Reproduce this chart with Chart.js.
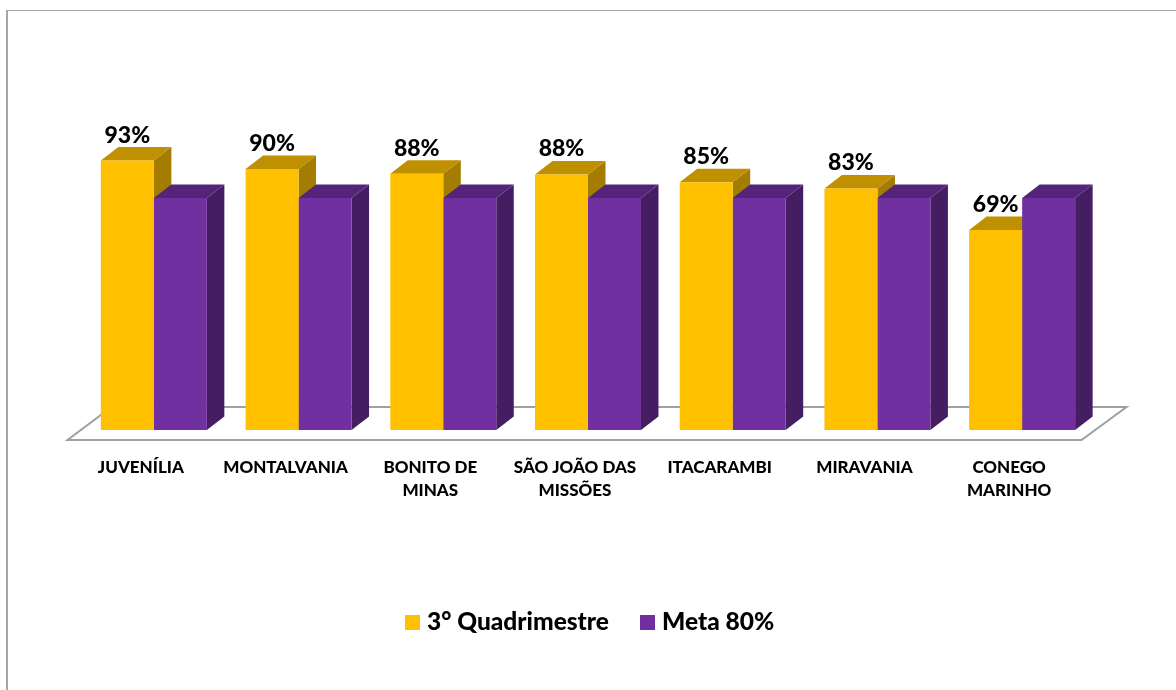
<!DOCTYPE html>
<html>
<head>
<meta charset="utf-8">
<title>3° Quadrimestre</title>
<script src="https://cdn.jsdelivr.net/npm/chart.js@4/dist/chart.umd.js"></script>
<style>
    html, body { margin: 0; padding: 0; background: #fff; overflow: hidden; }
    #moldura { position: absolute; left: 6px; top: 10px; width: 1170px; height: 680px; border-left: 2px solid #a6a6a6; border-top: 1px solid #a6a6a6; box-sizing: border-box; }
    canvas { position: absolute; left: 0; top: 0; }
    #legenda { position: absolute; top: 606px; left: 405px; height: 30px; font: 900 24.5px/30px Lato, sans-serif; color: #000; white-space: nowrap; }
    #legenda span { position: absolute; top: 0; }
    #legenda i { position: absolute; top: 9px; width: 15px; height: 15px; }
</style>
</head>
<body>
<div id="moldura"></div>
<canvas id="grafico" width="1176" height="690"></canvas>
<div id="legenda"></div>
<script>
const municipios = ["JUVENÍLIA", "MONTALVANIA", ["BONITO DE", "MINAS"], ["SÃO JOÃO DAS", "MISSÕES"], "ITACARAMBI", "MIRAVANIA", ["CONEGO", "MARINHO"]];
const quadrimestre = [92.9, 90, 88.4, 88.1, 85.4, 83.3, 69];
const meta = [80, 80, 80, 80, 80, 80, 80];

const fonte = "Lato, sans-serif";
const profundidadeX = 17.5;
const profundidadeY = 13.5;

const cores3d = [
    { frente: "#FFC000", topo: "#BF9000", lado: "#A37C00" },
    { frente: "#7030A0", topo: "#54247A", lado: "#451D63" }
];

function poligono(ctx, pontos, cor) {
    ctx.fillStyle = cor;
    ctx.beginPath();
    pontos.forEach((p, i) => i ? ctx.lineTo(p[0], p[1]) : ctx.moveTo(p[0], p[1]));
    ctx.closePath();
    ctx.fill();
}

// chao e faces laterais das barras, desenhados antes das frentes
const efeito3d = {
    id: "efeito3d",
    beforeDatasetsDraw(chart) {
        const { ctx, chartArea } = chart;
        const base = chartArea.bottom;

        ctx.save();
        ctx.strokeStyle = "#a0a0a0";
        ctx.lineWidth = 2;
        ctx.beginPath();
        ctx.moveTo(chartArea.left - 14, base + 10);
        ctx.lineTo(chartArea.right - 13, base + 10);
        ctx.lineTo(chartArea.right + 32, base - 23);
        ctx.lineTo(chartArea.left + 30, base - 23);
        ctx.closePath();
        ctx.stroke();

        chart.data.datasets.forEach((dataset, d) => {
            chart.getDatasetMeta(d).data.forEach((barra) => {
                const esq = barra.x - barra.width / 2;
                const dir = barra.x + barra.width / 2;
                const topo = barra.y;
                poligono(ctx, [[dir, topo], [dir + profundidadeX, topo - profundidadeY], [dir + profundidadeX, base - profundidadeY], [dir, base]], cores3d[d].lado);
                poligono(ctx, [[esq, topo], [esq + profundidadeX, topo - profundidadeY], [dir + profundidadeX, topo - profundidadeY], [dir, topo]], cores3d[d].topo);
            });
        });
        ctx.restore();
    },
    afterDatasetsDraw(chart) {
        const { ctx } = chart;
        ctx.save();
        ctx.fillStyle = "#000";
        ctx.font = "900 23px " + fonte;
        ctx.textAlign = "center";
        ctx.textBaseline = "middle";
        chart.getDatasetMeta(0).data.forEach((barra, i) => {
            ctx.fillText(Math.round(quadrimestre[i]) + "%", barra.x, barra.y - 25.5);
        });
        ctx.restore();
    }
};

const grafico = new Chart(document.getElementById("grafico"), {
    type: "bar",
    plugins: [efeito3d],
    data: {
        labels: municipios,
        datasets: [
            { label: "3° Quadrimestre", data: quadrimestre, backgroundColor: cores3d[0].frente },
            { label: "Meta 80%", data: meta, backgroundColor: cores3d[1].frente }
        ]
    },
    options: {
        responsive: false,
        animation: false,
        layout: { padding: { left: 81.5, right: 81.5, top: 140, bottom: 90 } },
        datasets: { bar: { categoryPercentage: 0.7323, barPercentage: 1 } },
        plugins: {
            tooltip: { enabled: false },
            legend: { display: false }
        },
        scales: {
            x: {
                grid: { display: false },
                border: { display: false },
                afterFit(escala) { escala.height = 170; },
                ticks: {
                    color: "#000",
                    font: { family: fonte, size: 17, weight: "900", lineHeight: 1.35 },
                    autoSkip: false,
                    maxRotation: 0,
                    padding: 18,
                    labelOffset: -13
                }
            },
            y: { display: false, min: 0, max: 100 }
        }
    }
});

// legenda em html para acertar a distancia entre quadrado e texto
const posicoesLegenda = [0, 235];
const legenda = document.getElementById("legenda");
grafico.data.datasets.forEach((dataset, d) => {
    const quadrado = document.createElement("i");
    quadrado.style.left = posicoesLegenda[d] + "px";
    quadrado.style.background = dataset.backgroundColor;
    const texto = document.createElement("span");
    texto.style.left = posicoesLegenda[d] + 22 + "px";
    texto.textContent = dataset.label;
    legenda.append(quadrado, texto);
});
</script>
</body>
</html>
